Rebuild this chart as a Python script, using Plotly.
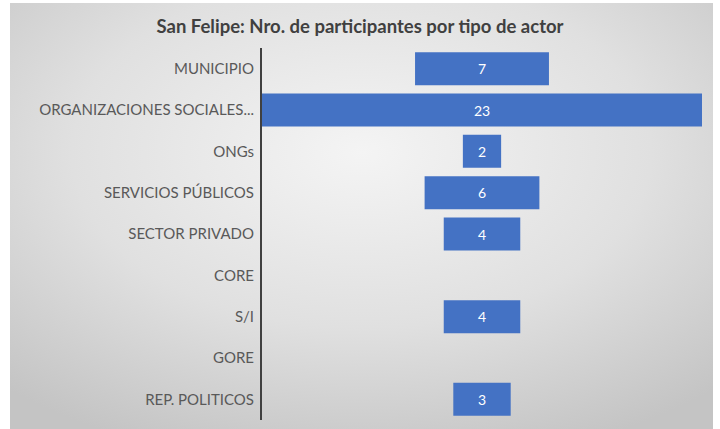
"""San Felipe: participantes por tipo de actor (gráfico embudo)."""

import base64

import plotly.graph_objects as go

actores = [
    "MUNICIPIO",
    "ORGANIZACIONES SOCIALES...",
    "ONGs",
    "SERVICIOS PÚBLICOS",
    "SECTOR PRIVADO",
    "CORE",
    "S/I",
    "GORE",
    "REP. POLITICOS",
]
participantes = [7, 23, 2, 6, 4, 0, 4, 0, 3]
etiquetas = [str(v) if v else "" for v in participantes]

W, H = 720, 429
ML, MR, MT, MB = 262, 18, 48, 9
plot_w = W - ML - MR
plot_h = H - MT - MB

# fondo gris con degradado radial (como el gráfico de Excel)
svg = """<svg xmlns='http://www.w3.org/2000/svg' width='703' height='426' preserveAspectRatio='none'>
<defs><radialGradient id='g' cx='50%' cy='35%' r='75%'>
<stop offset='0%' stop-color='#f4f4f4'/>
<stop offset='55%' stop-color='#e0e0e0'/>
<stop offset='100%' stop-color='#c4c4c4'/>
</radialGradient></defs>
<rect width='703' height='426' fill='url(#g)'/></svg>"""
fondo = "data:image/svg+xml;base64," + base64.b64encode(svg.encode()).decode()

fig = go.Figure()
fig.add_trace(
    go.Funnel(
        y=actores,
        x=participantes,
        text=etiquetas,
        textinfo="text",
        textposition="inside",
        insidetextanchor="middle",
        textfont=dict(color="white", size=14, family="Lato"),
        marker=dict(color="#4472C4", line=dict(width=0)),
        connector=dict(visible=False),
        hoverinfo="y+x",
    )
)
fig.update_layout(
    width=W,
    height=H,
    margin=dict(l=ML, r=MR, t=MT, b=MB),
    paper_bgcolor="white",
    plot_bgcolor="rgba(0,0,0,0)",
    showlegend=False,
    bargap=0.15,
    title=dict(
        text="<b>San Felipe: Nro. de participantes por tipo de actor</b>",
        x=0.5,
        xref="container",
        xanchor="center",
        y=1 - 27 / H,
        yanchor="middle",
        font=dict(family="Lato", size=18.5, color="#404040"),
    ),
    images=[
        dict(
            source=fondo,
            xref="paper",
            yref="paper",
            x=(10 - ML) / plot_w,
            y=1 + (MT - 3) / plot_h,
            sizex=703 / plot_w,
            sizey=426 / plot_h,
            xanchor="left",
            yanchor="top",
            sizing="stretch",
            layer="below",
        )
    ],
)
fig.update_xaxes(visible=False, range=[-11.5, 11.5])
fig.update_yaxes(
    showline=True,
    linecolor="#404040",
    linewidth=2,
    showgrid=False,
    ticks="",
    automargin=False,
    ticklabelstandoff=3,
    tickfont=dict(family="Lato", size=15, color="#595959"),
)

fig.write_html(
    "out.html",
    config={"displayModeBar": False},
    post_script="document.body.style.margin='0px';",
)
